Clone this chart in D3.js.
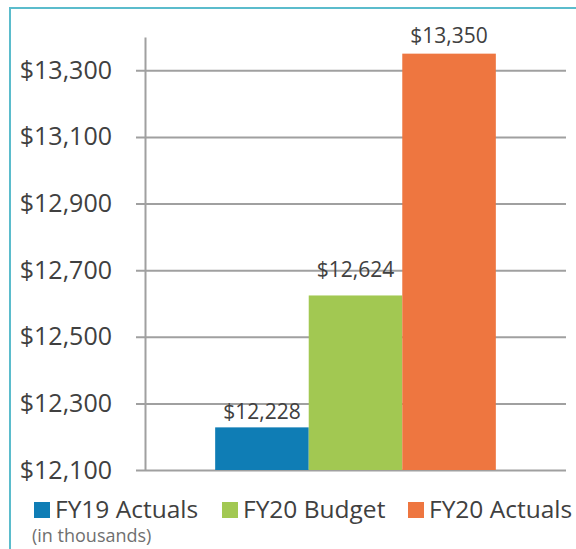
<!DOCTYPE html>
<html>
<head>
<meta charset="utf-8">
<script src="https://cdn.jsdelivr.net/npm/d3@7"></script>
<style>
  body { margin: 0; background: #fff; }
  text { font-family: "Open Sans", sans-serif; fill: #404040; }
</style>
</head>
<body>
<div id="chart"></div>
<script>
// chart data
var groups = ["Total"];
var seriesNames = ["FY19 Actuals", "FY20 Budget", "FY20 Actuals"];
var seriesValues = [12228, 12624, 13350];
var seriesColors = ["#0f7db5", "#a2c852", "#ee7640"];
var tickValues = [12100, 12300, 12500, 12700, 12900, 13100, 13300];
var yDomain = [12100, 13400];
var note = "(in thousands)";

var svgWidth = 576;
var svgHeight = 549;

var margin = { top: 37, right: 10, bottom: 79, left: 145 };
var width = svgWidth - margin.left - margin.right;
var height = svgHeight - margin.top - margin.bottom;

var svg = d3.select("#chart")
  .append("svg")
  .attr("width", svgWidth)
  .attr("height", svgHeight);

// teal frame (right and bottom edges run off the picture)
svg.append("rect")
  .attr("x", 10)
  .attr("y", 8)
  .attr("width", 600)
  .attr("height", 600)
  .attr("fill", "none")
  .attr("stroke", "#5bbccc")
  .attr("stroke-width", 2);

var chartGroup = svg.append("g")
  .attr("transform", `translate(${margin.left}, ${margin.top})`);

var yScale = d3.scaleLinear()
  .domain(yDomain)
  .range([height, 0]);

var x0 = d3.scaleBand()
  .domain(groups)
  .range([0, width])
  .paddingInner(0)
  .paddingOuter(0.25);

var x1 = d3.scaleBand()
  .domain(seriesNames)
  .range([0, x0.bandwidth()]);

// gridlines
var grid = chartGroup.append("g")
  .attr("transform", "translate(-9, 0)")
  .call(d3.axisRight(yScale).tickValues(tickValues).tickSize(width + 9).tickFormat(""));
grid.select(".domain").remove();
grid.selectAll(".tick line").attr("stroke", "#a0a0a0").attr("stroke-width", 2);

// y axis
var yAxis = chartGroup.append("g")
  .call(d3.axisLeft(yScale)
    .tickValues(tickValues)
    .tickSize(0)
    .tickPadding(33)
    .tickFormat(d => "$" + d3.format(",")(d)));
yAxis.select(".domain").attr("stroke", "#a0a0a0").attr("stroke-width", 2);
yAxis.selectAll(".tick text")
  .style("font-size", "25px")
  .attr("fill", "#404040");

// bars
var bars = seriesNames.map((name, i) => ({ name: name, value: seriesValues[i], color: seriesColors[i] }));

var barGroup = chartGroup.append("g")
  .attr("transform", `translate(${x0(groups[0])}, 0)`);

barGroup.selectAll("rect")
  .data(bars)
  .enter()
  .append("rect")
  .attr("x", d => x1(d.name))
  .attr("y", d => yScale(d.value))
  .attr("width", x1.bandwidth())
  .attr("height", d => height - yScale(d.value))
  .attr("fill", d => d.color);

// value labels
var labelGap = [8, 18, 11];
barGroup.selectAll(".valueLabel")
  .data(bars)
  .enter()
  .append("text")
  .attr("class", "valueLabel")
  .attr("x", d => x1(d.name) + x1.bandwidth() / 2)
  .attr("y", (d, i) => yScale(d.value) - labelGap[i])
  .attr("text-anchor", "middle")
  .style("font-size", "21px")
  .text(d => "$" + d3.format(",")(d.value));

// legend
var legendX = [34, 222, 408];
var legend = svg.append("g");
var items = legend.selectAll("g")
  .data(bars)
  .enter()
  .append("g")
  .attr("transform", (d, i) => `translate(${legendX[i]}, 502)`);

items.append("rect")
  .attr("width", 16)
  .attr("height", 16)
  .attr("fill", d => d.color);

items.append("text")
  .attr("x", 21)
  .attr("y", 16)
  .style("font-size", "24.5px")
  .text(d => d.name);

svg.append("text")
  .attr("x", 32)
  .attr("y", 542)
  .style("font-size", "18px")
  .style("fill", "#707070")
  .text(note);
</script>
</body>
</html>
